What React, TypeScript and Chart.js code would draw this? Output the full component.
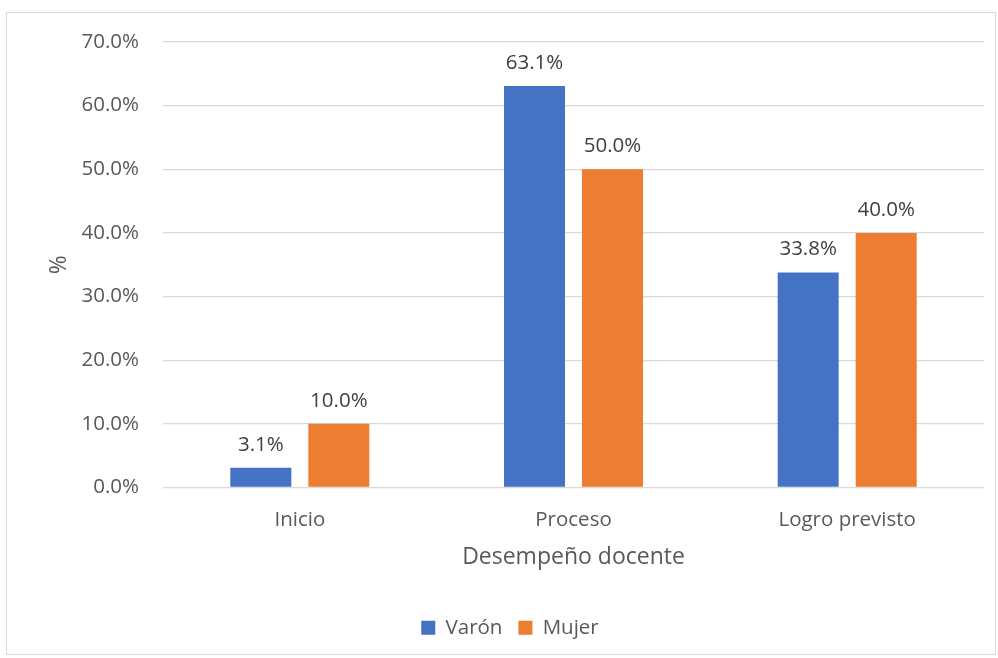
import React, { useEffect, useRef } from "react";
import { Chart, registerables } from "chart.js";

Chart.register(...registerables);

const categories = ["Inicio", "Proceso", "Logro previsto"];
const varonValues = [3.1, 63.1, 33.8];
const mujerValues = [10.0, 50.0, 40.0];
const seriesNames = ["Varón", "Mujer"];
const yTickMin = 0;
const yTickMax = 70;
const yTickStep = 10;

const FONT = "'Open Sans', 'Noto Sans', sans-serif";

const dataLabelPlugin = {
  id: "dataLabels",
  afterDatasetsDraw(chart: any) {
    const ctx = chart.ctx;
    ctx.save();
    ctx.font = `20.5px ${FONT}`;
    ctx.fillStyle = "#404040";
    ctx.textAlign = "center";
    ctx.textBaseline = "middle";
    chart.data.datasets.forEach((ds: any, i: number) => {
      const meta = chart.getDatasetMeta(i);
      meta.data.forEach((el: any, j: number) => {
        const v = ds.data[j] as number;
        ctx.fillText(v.toFixed(1) + "%", el.x, el.y - 23);
      });
    });
    ctx.restore();
  },
};

export default function App() {
  const ref = useRef<HTMLCanvasElement | null>(null);

  useEffect(() => {
    if (!ref.current) return;
    const chart = new Chart(ref.current, {
      type: "bar",
      data: {
        labels: categories,
        datasets: [
          {
            label: seriesNames[0],
            data: varonValues,
            backgroundColor: "#4472C4",
            categoryPercentage: 0.57,
            barPercentage: 0.782,
          },
          {
            label: seriesNames[1],
            data: mujerValues,
            backgroundColor: "#ED7D31",
            categoryPercentage: 0.57,
            barPercentage: 0.782,
          },
        ],
      },
      options: {
        responsive: false,
        animation: false,
        devicePixelRatio: 1,
        layout: { padding: { top: 42, left: 36, right: 14, bottom: 10 } },
        plugins: {
          legend: {
            position: "bottom",
            labels: {
              boxWidth: 14,
              boxHeight: 14,
              padding: 16,
              color: "#595959",
              font: { family: FONT, size: 20.5 },
            },
          },
          tooltip: { enabled: false },
        },
        scales: {
          x: {
            grid: { display: false, drawTicks: false },
            border: { display: false },
            ticks: {
              color: "#595959",
              padding: 20,
              font: { family: FONT, size: 20.5 },
            },
            title: {
              display: true,
              text: "Desempeño docente",
              color: "#595959",
              font: { family: FONT, size: 23 },
              padding: { top: 0, bottom: 30 },
            },
            afterFit(scale: any) {
              scale.height = 114;
            },
          },
          y: {
            min: yTickMin,
            max: yTickMax,
            grid: { color: "#D9D9D9", lineWidth: 1.3, drawTicks: false },
            border: { display: false },
            ticks: {
              stepSize: yTickStep,
              color: "#595959",
              padding: 24,
              font: { family: FONT, size: 20.5 },
              callback: (v: any) => Number(v).toFixed(1) + "%",
            },
            title: {
              display: true,
              text: "%",
              color: "#595959",
              font: { family: FONT, size: 23 },
              padding: { top: 10, bottom: 0 },
            },
            afterFit(scale: any) {
              scale.width = 127;
            },
          },
        },
      },
      plugins: [dataLabelPlugin],
    });
    return () => chart.destroy();
  }, []);

  return (
    <>
      <div
        style={{
          position: "fixed",
          left: 6,
          top: 12,
          width: 990,
          height: 643,
          border: "1.5px solid #D9D9D9",
          boxSizing: "border-box",
          background: "#fff",
        }}
      />
      <canvas
        ref={ref}
        width={998}
        height={658}
        style={{ position: "fixed", left: 0, top: 0, width: 998, height: 658 }}
      />
    </>
  );
}
